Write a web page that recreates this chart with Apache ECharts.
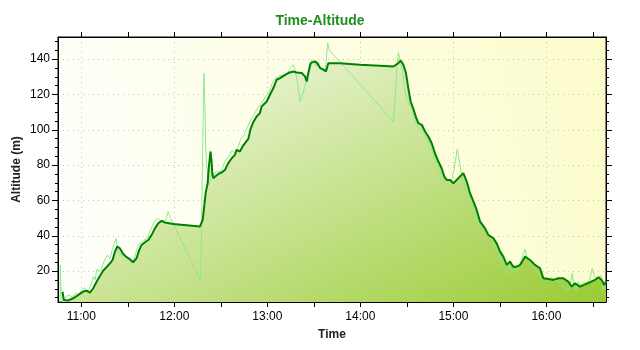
<!DOCTYPE html>
<html>
<head>
<meta charset="utf-8">
<script src="https://cdn.jsdelivr.net/npm/echarts@6/dist/echarts.min.js"></script>
<style>
html,body{margin:0;padding:0;background:#fff;}
#chart{width:640px;height:350px;}
</style>
</head>
<body>
<div id="chart"></div>
<script>
// Time is given in minutes after 11:00
const baseMinutes = 660;
const xMin = 645, xMax = 998.4;
const yMin = 2.5, yMax = 152.5;
const yMajorTicks = [20, 40, 60, 80, 100, 120, 140];
const xHourTicks = [660, 720, 780, 840, 900, 960];

// Smoothed altitude (dark line)
const smoothTime = [-12.1,-11.2,-8.4,-5.2,-1.9,1.3,3.4,5.6,7.7,9.9,12.0,14.2,16.3,18.5,20.2,21.7,23.2,24.9,26.7,28.8,31.4,33.5,35.7,37.2,38.9,41.1,43.2,45.4,47.5,49.7,51.8,54.0,59.3,67.9,76.5,78.3,79.3,80.2,81.5,82.3,83.0,83.4,84.1,84.5,85.1,86.2,88.4,90.5,92.7,94.8,97.0,99.1,100.2,102.3,104.5,105.6,107.7,109.2,110.9,113.1,115.2,116.3,119.6,121.7,123.9,126.0,128.2,131.4,133.5,136.7,138.9,142.2,144.3,145.4,146.4,147.9,150.7,152.2,154.0,156.1,157.8,159.3,166.8,179.7,192.6,201.3,204.5,206.0,207.7,209.4,210.9,212.4,214.1,215.9,217.4,219.6,221.7,223.8,226.0,228.1,230.3,232.4,234.1,235.7,237.8,240.0,243.2,246.4,248.6,250.7,252.9,255.0,257.2,260.4,262.5,265.8,267.9,270.1,272.2,274.4,276.5,278.6,280.8,283.0,286.2,289.4,292.6,295.9,298.0,301.2,304.4,307.7,310.9,314.1,316.3,318.4,321.7,324.9,328.1,331.3,333.5,335.6,337.2,338.4];
const smoothAlt = [8.3,3.6,3.4,4.6,6.5,8.4,8.9,7.8,10.3,14.0,17.2,20.3,22.2,24.4,26.3,31.0,33.9,32.9,30.1,28.2,26.7,25.0,27.3,31.6,34.8,36.3,37.6,40.5,44.2,47.1,48.4,47.5,46.7,46.0,45.2,49.0,56.5,64.1,69.7,79.2,84.9,87.7,81.1,75.4,72.6,73.5,75.0,75.8,77.3,81.1,83.9,85.8,88.6,87.7,91.2,90.9,94.8,100.5,104.2,107.5,109.4,113.2,116.0,119.8,123.6,128.3,129.2,131.1,132.1,133.0,132.4,132.1,130.2,127.3,132.1,137.7,138.7,137.7,134.9,134.0,133.0,137.7,137.7,136.8,136.2,135.8,137.7,139.2,136.8,132.1,123.6,116.0,112.0,107.0,103.7,102.8,99.0,96.2,92.4,86.7,82.0,78.2,73.5,71.6,71.6,69.7,72.6,75.4,70.7,64.1,59.4,54.6,48.0,44.2,40.5,38.6,35.7,31.0,28.2,23.5,25.4,22.5,22.5,23.5,28.2,26.3,23.5,21.6,15.9,15.5,15.0,15.9,15.9,14.0,11.2,13.1,11.2,12.5,13.7,15.0,16.5,15.0,12.1,14.0];

// Raw altitude (light line)
const rawTime = [-13.7,-13.5,-13.0,-12.0,-10.5,-8.5,-6,-3.5,-1.5,0.5,2,3.5,5,6.5,8,9,10,11,12.5,14,15.5,17,18.5,20,21,22.5,23.5,25,26.5,28,30,32,34,35.5,37,39,41,43,45,47,49,51,53,54.5,56,57.5,59,76.8,77.5,78.4,79.1,79.7,80.2,81,81.9,82.6,83.4,84.3,85.5,87,89,91,92.5,94,95.5,97,99,101,103,105,107,109,111,113,115,117,119,121,123,125,127,129,131,133,135,136.7,138,139.5,141.1,142.5,144,145.5,147,148.6,150,151.5,153,154.5,156,157.5,158.9,160,201.3,202.5,203.5,204.5,205.5,207,208.5,210,211.5,213,214.5,216,217.5,219,221,223,225,227,229,231,233,235,237,239,240.5,242.5,244,245.5,247,249,251,253,255,257,259,261,263,265,267,269,271,273,274.5,276,277.5,279,281,283,284.5,286.2,287.5,289,291,293,295,297,299,301,303,305,307,309,311,313,315,316.6,317.8,319,320.5,322,324,326,328,329.5,331,333,335,336.5,338.4];
const rawAlt = [2.5,23.5,6,2.8,4.5,6.5,5.5,7.5,6.8,9.5,10.5,8.5,9.5,13,17,15,21,22,20,24,27,29,27,32,35,38.6,31,29.5,28.5,29,26.5,24.5,26.5,31,35,36.5,37.5,40,44,48,50,48.5,48,49,53.7,50,47.5,15,40,95,132,115,90,78,73.5,69,68,76,74,76.5,76,78,82,84,85,88,87,90,95,97,101,105,108,111,114,116,119,121,126,129,130,131,130.5,132,135,136.8,134,126,116,119,124,128,133,139.6,138.5,136,138,135,134.5,134,149,145,104.7,120,135,143.8,140,134,124,117,114,112,108,104,101.5,100,98,95,91,86,81,77,73,71.5,70.5,72,78,89,81,73,68,64,60,55,50,46,43.5,42,39,37,34,30,25.5,21,19,24,19,21,20,24,28,32.5,27,25,23,21,17.5,15,16.5,14.5,16.5,15,14.5,13,11,9,10,18.8,11,9,14,12,13.5,13,15.5,21.6,17,14.5,17.5,9,14];

const smoothData = smoothTime.map((t, i) => [baseMinutes + t, smoothAlt[i]]);
const rawData = rawTime.map((t, i) => [baseMinutes + t, rawAlt[i]]);

const halfHourTicks = [];
for (let v = 660; v <= 990; v += 30) halfHourTicks.push(v);
const yMinorTicks = [];
for (let v = 5; v <= 150; v += 5) yMinorTicks.push(v);

const font = 'Liberation Sans';
const fmtTime = v => {
  const h = Math.floor(v / 60), m = Math.round(v - h * 60);
  return h + ':' + String(m).padStart(2, '0');
};

const chart = echarts.init(document.getElementById('chart'), null, {renderer: 'canvas'});
const noLine = {show: false};
chart.setOption({
  animation: false,
  backgroundColor: '#ffffff',
  title: {
    text: 'Time-Altitude', left: 'center', top: 9,
    textStyle: {color: '#1f8f1f', fontSize: 14, fontWeight: 'bold', fontFamily: font}
  },
  grid: {
    left: 58, right: 34, top: 37, bottom: 48, show: true,
    outerBoundsMode: 'none', containLabel: false,
    borderColor: '#000', borderWidth: 1,
    backgroundColor: new echarts.graphic.LinearGradient(0, 0.4, 1, 0, [
      {offset: 0, color: '#fffffa'}, {offset: 1, color: '#fcfccc'}
    ])
  },
  xAxis: [
    { // bottom: half-hour ticks + hour labels
      type: 'value', position: 'bottom', min: xMin, max: xMax,
      axisLine: {show: true, onZero: false, lineStyle: {color: '#000'}},
      axisTick: {show: true, length: 5, customValues: halfHourTicks, lineStyle: {color: '#000'}},
      axisLabel: {customValues: xHourTicks, formatter: fmtTime, color: '#000', fontSize: 12, fontFamily: font, margin: 9},
      splitLine: {show: false},
      name: 'Time', nameLocation: 'middle', nameGap: 27, nameMoveOverlap: false,
      nameTextStyle: {fontWeight: 'bold', fontSize: 12, color: '#222', fontFamily: font}
    },
    { // hourly dotted grid
      type: 'value', position: 'bottom', min: xMin, max: xMax,
      axisLine: noLine, axisTick: {show: false, customValues: xHourTicks},
      axisLabel: {show: false},
      splitLine: {show: true, lineStyle: {color: '#c4c4c4', type: [1, 4], width: 1}}
    },
    { // top mirrored ticks
      type: 'value', position: 'top', min: xMin, max: xMax,
      axisLine: {show: true, onZero: false, lineStyle: {color: '#000'}},
      axisTick: {show: true, length: 5, customValues: halfHourTicks, lineStyle: {color: '#000'}},
      axisLabel: {show: false}, splitLine: {show: false}
    }
  ],
  yAxis: [
    {
      type: 'value', position: 'left', min: yMin, max: yMax,
      axisLine: {show: true, onZero: false, lineStyle: {color: '#000'}},
      axisTick: {show: true, length: 6, customValues: yMajorTicks, lineStyle: {color: '#000'}},
      axisLabel: {customValues: yMajorTicks, color: '#000', fontSize: 12, fontFamily: font, margin: 8},
      splitLine: {show: true, lineStyle: {color: '#c4c4c4', type: [1, 4], width: 1}},
      name: 'Altitude (m)', nameLocation: 'middle', nameGap: 35, nameRotate: 90, nameMoveOverlap: false,
      nameTextStyle: {fontWeight: 'bold', fontSize: 12, color: '#222', fontFamily: font}
    },
    {
      type: 'value', position: 'left', min: yMin, max: yMax,
      axisLine: noLine,
      axisTick: {show: true, length: 3, customValues: yMinorTicks, lineStyle: {color: '#000'}},
      axisLabel: {show: false}, splitLine: {show: false}
    },
    {
      type: 'value', position: 'right', min: yMin, max: yMax,
      axisLine: {show: true, onZero: false, lineStyle: {color: '#000'}},
      axisTick: {show: true, length: 6, customValues: yMajorTicks, lineStyle: {color: '#000'}},
      axisLabel: {show: false}, splitLine: {show: false}
    },
    {
      type: 'value', position: 'right', min: yMin, max: yMax,
      axisLine: noLine,
      axisTick: {show: true, length: 3, customValues: yMinorTicks, lineStyle: {color: '#000'}},
      axisLabel: {show: false}, splitLine: {show: false}
    }
  ],
  series: [
    {
      name: 'fill', type: 'line', data: smoothData, showSymbol: false, symbol: 'none',
      lineStyle: {width: 0}, z: 1,
      areaStyle: {
        opacity: 1,
        // diagonal gradient across the plot area (pixel coordinates)
        color: new echarts.graphic.LinearGradient(58, 37, 266, 467, [
          {offset: 0, color: '#ffffff'}, {offset: 1, color: '#9acb34'}
        ], true)
      }
    },
    {
      name: 'raw', type: 'line', data: rawData, showSymbol: false, symbol: 'none', z: 2,
      lineStyle: {color: '#8ee88e', width: 1}
    },
    {
      name: 'smooth', type: 'line', data: smoothData, showSymbol: false, symbol: 'none', z: 3,
      lineStyle: {color: '#008000', width: 2}
    }
  ]
});
</script>
</body>
</html>
